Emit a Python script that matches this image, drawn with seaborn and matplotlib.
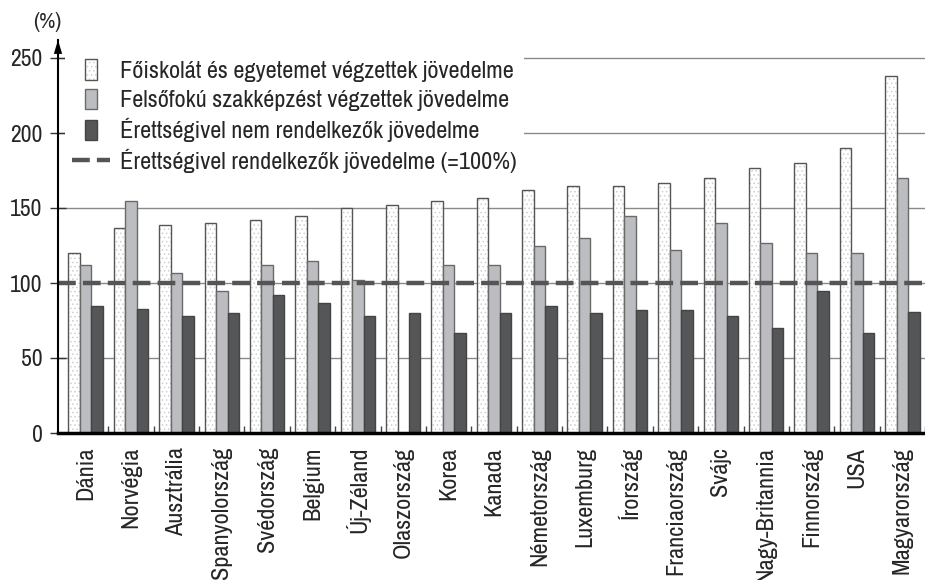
import numpy as np
import pandas as pd
import matplotlib
matplotlib.use("Agg")
import matplotlib.pyplot as plt
import seaborn as sns
from matplotlib.patches import Patch, Rectangle
from matplotlib.lines import Line2D
from matplotlib.legend_handler import HandlerPatch
from matplotlib.colors import to_rgba

countries = ["Dánia", "Norvégia", "Ausztrália", "Spanyolország", "Svédország", "Belgium",
             "Új-Zéland", "Olaszország", "Korea", "Kanada", "Németország", "Luxemburg",
             "Írország", "Franciaország", "Svájc", "Nagy-Britannia", "Finnország", "USA",
             "Magyarország"]
higher_ed = [120, 137, 139, 140, 142, 145, 150, 152, 155, 157, 162, 165, 165, 167, 170, 177, 180, 190, 238]
vocational = [112, 155, 107, 95, 112, 115, 102, np.nan, 112, 112, 125, 130, 145, 122, 140, 127, 120, 120, 170]
no_secondary = [85, 83, 78, 80, 92, 87, 78, 80, 67, 80, 85, 80, 82, 82, 78, 70, 95, 67, 81]
baseline = 100
series_names = ["Főiskolát és egyetemet végzettek jövedelme",
                "Felsőfokú szakképzést végzettek jövedelme",
                "Érettségivel nem rendelkezők jövedelme"]
baseline_name = "Érettségivel rendelkezők jövedelme (=100%)"
y_ticks = [0, 50, 100, 150, 200, 250]

sns.set_theme(style="white")
narrow = ["Archivo Narrow", "Liberation Sans Narrow", "Liberation Sans", "DejaVu Sans"]
plt.rcParams["font.family"] = narrow
plt.rcParams["hatch.linewidth"] = 0.6

df = pd.DataFrame({
    "country": countries * 3,
    "series": [series_names[0]] * len(countries) + [series_names[1]] * len(countries) + [series_names[2]] * len(countries),
    "value": higher_ed + vocational + no_secondary,
})

fills = ["white", "#bcbdc0", "#555658"]
edges = ["#555555", "#6a6a6a", "#444444"]

fig = plt.figure(figsize=(9.25, 5.8), dpi=100)
ax = fig.add_axes([58 / 925, (580 - 433) / 580, 1 - 58 / 925, 393 / 580])

sns.barplot(data=df, x="country", y="value", hue="series", hue_order=series_names,
            palette=fills, width=0.76, gap=0, ax=ax, legend=False, errorbar=None,
            saturation=1)

for i, cont in enumerate(ax.containers):
    for p in cont.patches:
        p.set_edgecolor(edges[i])
        p.set_linewidth(1.0)
        p.set_zorder(2)
        if i == 0:
            p.set_hatch("....")
            p._hatch_color = to_rgba("#cfcfcf")

ax.axhline(baseline, color="#555555", lw=3.2, dashes=(4.0, 1.6), zorder=3)

ax.set_xlim(-0.61, 18.5)
ax.set_ylim(0, 262)
ax.set_yticks(y_ticks)
ax.yaxis.grid(True, color="#8a8a8a", lw=1.0)
ax.set_axisbelow(True)
ax.set_xlabel("")
ax.set_ylabel("")

for s in ["top", "right"]:
    ax.spines[s].set_visible(False)
ax.spines["left"].set_color("black")
ax.spines["left"].set_linewidth(1.5)
ax.spines["bottom"].set_color("black")
ax.spines["bottom"].set_linewidth(2.5)
ax.spines["left"].set_zorder(6)

ax.tick_params(axis="y", direction="inout", length=12, width=1, color="#333333",
               labelsize=17, pad=5, left=True)
ax.tick_params(axis="x", which="major", length=0, pad=10)
ax.set_xticks(np.arange(len(countries)) + 0.5, minor=True)
ax.tick_params(axis="x", which="minor", direction="in", length=5, width=1,
               color="#444444", bottom=True)
for lab in ax.get_xticklabels():
    lab.set_rotation(90)
    lab.set_fontsize(17.5)
    lab.set_family(narrow)
    lab.set_va("top")
    lab.set_ha("center")
for lab in ax.get_yticklabels():
    lab.set_family(narrow)

# arrow on y axis
ax.annotate("", xy=(0, 1.0), xytext=(0, 0.93), xycoords="axes fraction",
            arrowprops=dict(facecolor="black", edgecolor="none", width=0.1,
                            headwidth=6, headlength=10, shrink=0),
            annotation_clip=False)
ax.text(-0.012, 1.045, "(%)", transform=ax.transAxes, ha="center", va="center",
        fontsize=16, family=narrow)


class NarrowBox(HandlerPatch):
    def create_artists(self, legend, orig_handle, xdescent, ydescent, width, height,
                       fontsize, trans):
        bw = 8.5
        bh = 14.5
        r = Rectangle((-xdescent + (width - bw) / 2, -ydescent + (height - bh) / 2), bw, bh,
                      facecolor=orig_handle.get_facecolor(),
                      edgecolor=orig_handle.get_edgecolor(), lw=1.0,
                      hatch=orig_handle.get_hatch(), transform=trans)
        if orig_handle.get_hatch():
            r._hatch_color = to_rgba("#cfcfcf")
        return [r]


handles = []
for i in range(3):
    h = Patch(facecolor=fills[i], edgecolor=edges[i], hatch="...." if i == 0 else None)
    handles.append(h)
handles.append(Line2D([], [], color="#555555", lw=3.2, dashes=(4.0, 1.6)))
labels = series_names + [baseline_name]

leg = ax.legend(handles, labels, loc="upper left", bbox_to_anchor=(-0.006, 1.0),
                frameon=True, facecolor="white", edgecolor="none", framealpha=1,
                fancybox=False, fontsize=17.5, handlelength=1.55, handleheight=0.9,
                handletextpad=0.4, labelspacing=0.28, borderpad=0.3,
                handler_map={Patch: NarrowBox()})
leg.set_zorder(5)
for t in leg.get_texts():
    t.set_family(narrow)

fig.savefig("out.png", dpi=100)
